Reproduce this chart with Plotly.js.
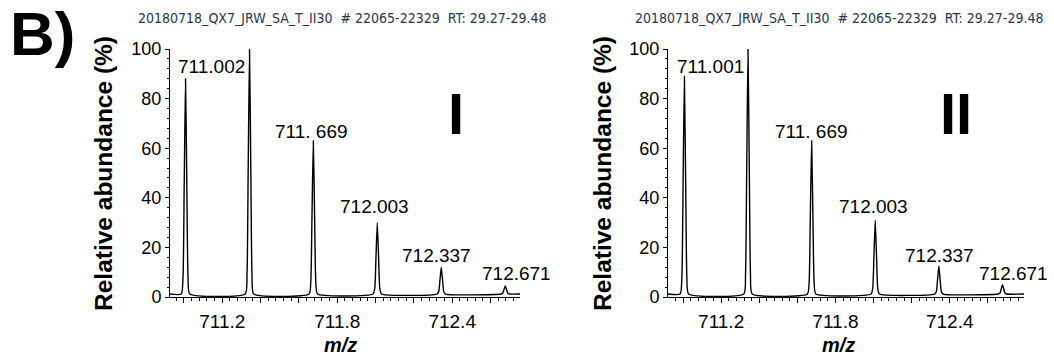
<!DOCTYPE html>
<html>
<head>
<meta charset="utf-8">
<script src="https://cdn.plot.ly/plotly-3.0.1.min.js"></script>
<style>
  html, body { margin: 0; padding: 0; background: #ffffff; }
  #chart { width: 1054px; height: 358px; }
</style>
</head>
<body>
<div id="chart"></div>
<script>
// ---------- data ----------
const runTitle = "20180718_QX7_JRW_SA_T_II30  # 22065-22329  RT: 29.27-29.48";
const panelLabels = ["I", "II"];
const xTickVals = [711.0, 711.2, 711.4, 711.6, 711.8, 712.0, 712.2, 712.4, 712.6];
const xTickText = ["", "711.2", "", "", "711.8", "", "", "712.4", ""];

// Panel I profile spectrum (m/z, relative abundance %)
const mzI = [710.927,
  710.986, 710.995, 711.001, 711.008, 711.015, 711.021, 711.030,
  711.320, 711.329, 711.335, 711.342, 711.349, 711.355, 711.364,
  711.653, 711.662, 711.668, 711.675, 711.682, 711.688, 711.697,
  711.987, 711.996, 712.002, 712.009, 712.016, 712.022, 712.031,
  712.321, 712.330, 712.336, 712.343, 712.350, 712.356, 712.365,
  712.655, 712.664, 712.670, 712.677, 712.684, 712.690, 712.699,
  712.754];
const abI = [1.2,
  1.2, 8.2, 44, 88, 44, 8.2, 1.2,
  1.2, 9.2, 50, 100, 50, 9.2, 1.2,
  1.2, 6.2, 31.5, 63, 31.5, 6.2, 1.2,
  1.2, 3.6, 15.5, 30, 15.5, 3.6, 1.2,
  1.2, 2.2, 6.6, 12, 6.6, 2.2, 1.2,
  1.2, 1.6, 2.9, 4.5, 2.9, 1.6, 1.2,
  1.2];

// Panel II profile spectrum
const mzII = [710.921,
  710.985, 710.994, 711.000, 711.007, 711.014, 711.020, 711.029,
  711.319, 711.328, 711.334, 711.341, 711.348, 711.354, 711.363,
  711.653, 711.662, 711.668, 711.675, 711.682, 711.688, 711.697,
  711.987, 711.996, 712.002, 712.009, 712.016, 712.022, 712.031,
  712.321, 712.330, 712.336, 712.343, 712.350, 712.356, 712.365,
  712.655, 712.664, 712.670, 712.677, 712.684, 712.690, 712.699,
  712.790];
const abII = [1.2,
  1.2, 8.3, 44.5, 89, 44.5, 8.3, 1.2,
  1.2, 9.2, 50, 100, 50, 9.2, 1.2,
  1.2, 6.2, 31.5, 63, 31.5, 6.2, 1.2,
  1.2, 3.7, 16, 31, 16, 3.7, 1.2,
  1.2, 2.2, 6.8, 12.5, 6.8, 2.2, 1.2,
  1.2, 1.6, 3.1, 5, 3.1, 1.6, 1.2,
  1.2];

// Peak label text and where each label sits (m/z, abundance)
const peakTextI  = ["711.002", "711. 669", "712.003", "712.337", "712.671"];
const peakXI     = [711.146, 711.663, 711.997, 712.320, 712.738];
const peakYI     = [93.1, 66.9, 36.3, 16.9, 9.3];
const peakTextII = ["711.001", "711. 669", "712.003", "712.337", "712.671"];
const peakXII    = [711.142, 711.672, 711.998, 712.345, 712.733];
const peakYII    = [93.1, 66.9, 36.3, 16.9, 9.3];

// ---------- styling ----------
const FONT = "Liberation Sans, Arial, Helvetica, sans-serif";
const NARROW = "Liberation Sans Narrow, Arial Narrow, DejaVu Sans Condensed, sans-serif";

function xAxis(domain, range) {
  return {
    domain: domain, range: range,
    tickmode: "array", tickvals: xTickVals, ticktext: xTickText,
    ticks: "outside", ticklen: 5, tickwidth: 1, tickcolor: "#000",
    minor: { tickmode: "linear", tick0: 711.0, dtick: 0.04, ticks: "outside", ticklen: 3, tickcolor: "#000", showgrid: false },
    showline: true, linecolor: "#000", linewidth: 1,
    showgrid: false, zeroline: false,
    ticklabelstandoff: 2,
    tickfont: { family: FONT, size: 19, color: "#000" },
    fixedrange: true
  };
}
function yAxis(domain, anchor) {
  return {
    domain: domain, range: [0, 100], anchor: anchor,
    tickmode: "linear", tick0: 0, dtick: 20,
    ticks: "outside", ticklen: 4, tickwidth: 1, tickcolor: "#000",
    minor: { tickmode: "linear", tick0: 0, dtick: 4, ticks: "outside", ticklen: 2, tickcolor: "#000", showgrid: false },
    showline: true, linecolor: "#000", linewidth: 1,
    showgrid: false, zeroline: false,
    tickfont: { family: FONT, size: 18, color: "#000" },
    fixedrange: true
  };
}

const yDom = [61 / 358, 309 / 358];

const traces = [
  { x: mzI, y: abI, xaxis: "x", yaxis: "y", type: "scatter", mode: "lines",
    line: { color: "#000", width: 1.4, shape: "spline", smoothing: 0.5 }, cliponaxis: false, hoverinfo: "skip" },
  { x: mzII, y: abII, xaxis: "x2", yaxis: "y2", type: "scatter", mode: "lines",
    line: { color: "#000", width: 1.4, shape: "spline", smoothing: 0.5 }, cliponaxis: false, hoverinfo: "skip" }
];

const ann = [];
function label(text, x, y, xref, yref, size, extra) {
  ann.push(Object.assign({ text: text, x: x, y: y, xref: xref, yref: yref, showarrow: false,
    xanchor: "center", yanchor: "middle",
    font: { family: FONT, size: size, color: "#000" } }, extra || {}));
}
peakTextI.forEach((t, i) => label(t, peakXI[i], peakYI[i], "x", "y", 19));
peakTextII.forEach((t, i) => label(t, peakXII[i], peakYII[i], "x2", "y2", 19));

// panel numerals
label("<b>" + panelLabels[0] + "</b>", 456 / 1054, 1 - 114 / 358, "paper", "paper", 58);
label("<b>" + panelLabels[1] + "</b>", 956 / 1054, 1 - 114 / 358, "paper", "paper", 58);
// figure letter
label("<b>B)</b>", 8 / 1054, 1 - 34 / 358, "paper", "paper", 62, { xanchor: "left" });
// run header
[136, 633].forEach(px => ann.push({ text: runTitle, x: px / 1054, y: 1 - 18 / 358, xref: "paper", yref: "paper",
  showarrow: false, xanchor: "left", yanchor: "middle",
  font: { family: NARROW, size: 14, color: "#2a3552" } }));
// axis titles
[103, 602].forEach(px => label("<b>Relative abundance (%)</b>", px / 1054, 1 - 174 / 358, "paper", "paper", 24.5, { textangle: -90 }));
[340, 838].forEach(px => label("<b><i>m/z</i></b>", px / 1054, 1 - 345 / 358, "paper", "paper", 20));

const layout = {
  width: 1054, height: 358,
  margin: { l: 0, r: 0, t: 0, b: 0 },
  paper_bgcolor: "#ffffff", plot_bgcolor: "rgba(0,0,0,0)",
  showlegend: false,
  xaxis: xAxis([170 / 1054, 520 / 1054], [710.927, 712.754]),
  yaxis: yAxis(yDom, "x"),
  xaxis2: Object.assign(xAxis([668 / 1054, 1024 / 1054], [710.921, 712.79]), { anchor: "y2" }),
  yaxis2: yAxis(yDom, "x2"),
  annotations: ann
};
layout.xaxis.anchor = "y";

Plotly.newPlot("chart", traces, layout, { staticPlot: true, displayModeBar: false });
</script>
</body>
</html>
